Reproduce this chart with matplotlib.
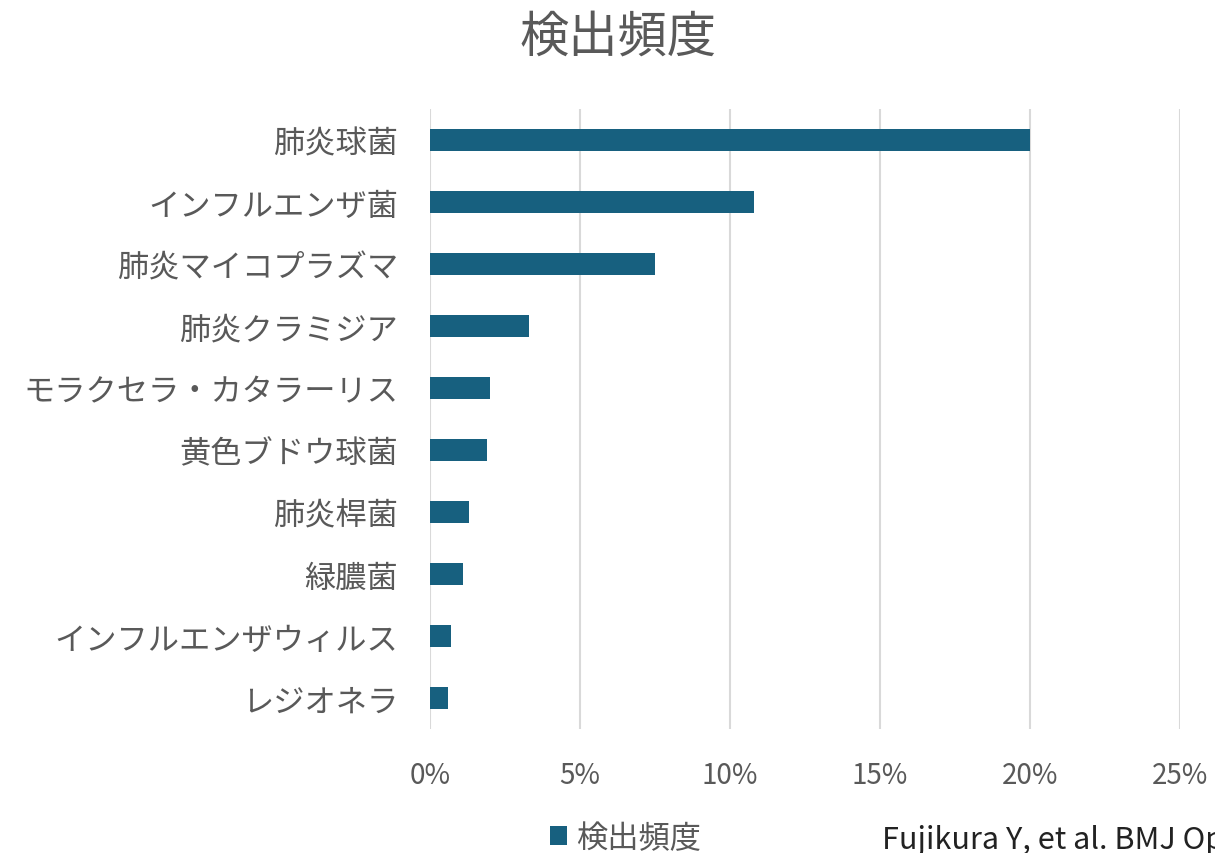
import matplotlib.pyplot as plt
from matplotlib.ticker import PercentFormatter

plt.rcParams['font.family'] = ['Noto Sans CJK JP', 'DejaVu Sans']

categories = ['肺炎球菌', 'インフルエンザ菌', '肺炎マイコプラズマ', '肺炎クラミジア',
              'モラクセラ・カタラーリス', '黄色ブドウ球菌', '肺炎桿菌', '緑膿菌',
              'インフルエンザウィルス', 'レジオネラ']
values = [0.200, 0.108, 0.075, 0.033, 0.020, 0.019, 0.013, 0.011, 0.007, 0.006]
xticks = [0, 0.05, 0.10, 0.15, 0.20, 0.25]

bar_color = '#17607f'
text_gray = '#595959'

fig = plt.figure(figsize=(12.15, 8.54), dpi=100)
ax = fig.add_axes([0.354, 0.145, 0.617, 0.726])

ax.barh(range(len(categories)), values, height=0.36, color=bar_color,
        label='検出頻度', zorder=3)
ax.set_ylim(len(categories) - 0.5, -0.5)
ax.set_yticks(range(len(categories)))
ax.set_yticklabels(categories, fontsize=22.5, color=text_gray)

ax.set_xlim(0, 0.25)
ax.set_xticks(xticks)
ax.xaxis.set_major_formatter(PercentFormatter(1.0, decimals=0))
ax.tick_params(axis='x', labelsize=20, colors=text_gray, length=0, pad=22)
ax.tick_params(axis='y', length=0, pad=23)
ax.grid(axis='x', color='#d9d9d9', linewidth=1.5, zorder=0)
for s in ax.spines.values():
    s.set_visible(False)

fig.text(0.509, 0.956, '検出頻度', fontsize=35.5, color=text_gray,
         ha='center', va='center')

leg = fig.legend(loc='center', bbox_to_anchor=(0.515, 0.018), frameon=False,
                 fontsize=22.5, handlelength=0.55, handleheight=0.55,
                 handletextpad=0.3, labelcolor=text_gray)

fig.text(0.726, 0.016, 'Fujikura Y, et al. BMJ Open', fontsize=22,
         color='#222222', ha='left', va='center')

fig.savefig('out.png', dpi=100)
